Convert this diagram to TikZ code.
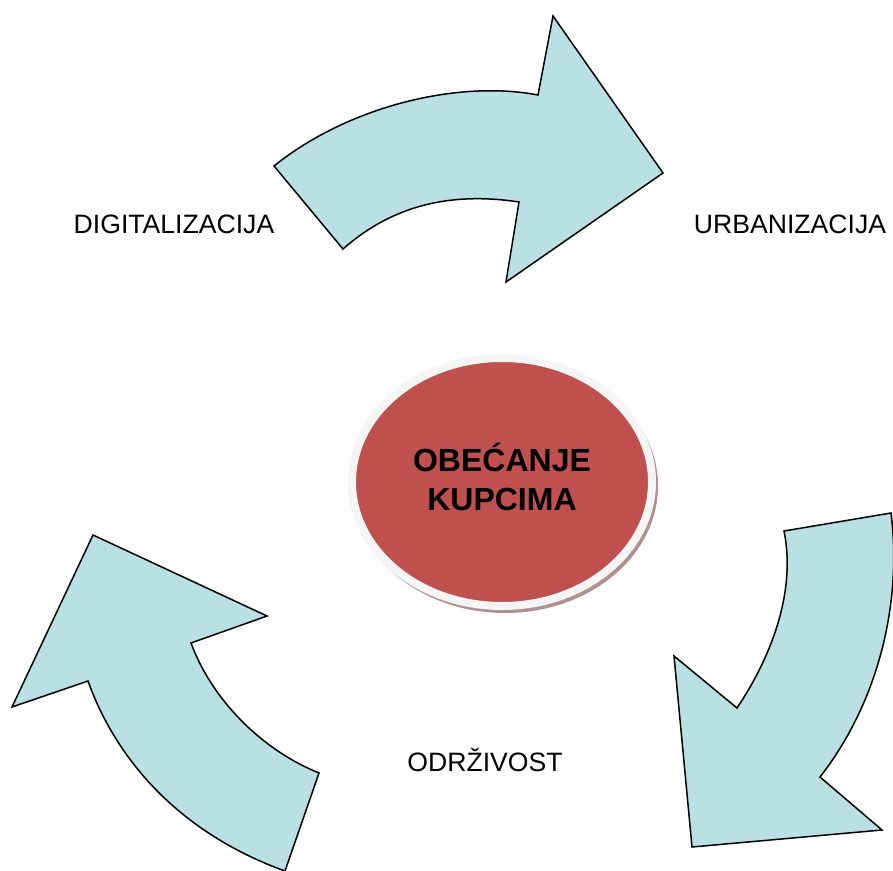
\documentclass[tikz,border=0pt]{standalone}
\usepackage{fontspec}
\setmainfont{Liberation Sans}
\usepackage{tikz}
\usetikzlibrary{ calc, positioning, shapes.geometric }
\definecolor{arrowfill}{RGB}{185,224,227}
\definecolor{corered}{RGB}{192,80,77}
\definecolor{coreshadow}{RGB}{175,145,145}
\tikzset{
x=0.5pt, y=-0.5pt, % pixel-like units
bentarrow/.style={fill=arrowfill, draw=black, line width=0.75pt, line join=miter}, % the three curved arrows
core/.style={ellipse, fill=corered, draw=gray!8, line width=4pt, minimum width=150pt, minimum height=124pt}, % centre disc
label/.style={font=\fontsize{13.3}{16}\selectfont, inner sep=0pt}, % texts round the circle
}
\begin{document}
\begin{tikzpicture}
  \useasboundingbox (0,0) rectangle (893,871);

  % shadow and centre
  \fill[coreshadow] (505,486) ellipse (153 and 127);
  \node[core] (core) at (502,482) {};
  \node[font=\fontsize{16}{19.5}\selectfont\bfseries, align=center, inner sep=0pt]
    (promise) at ([yshift=2.75pt]core.center) {OBEĆANJE\\KUPCIMA};

  % top arrow
  \draw[bentarrow] (274,166) .. controls (350,105) and (460,80) .. (538,95)
    -- (553,16) -- (663,173) -- (506,282) -- (519,202)
    .. controls (440,190) and (385,212) .. (343,249) -- cycle;

  % right arrow
  \draw[bentarrow] (784,531) -- (891,513)
    .. controls (902,600) and (880,700) .. (820,777)
    -- (882,830) -- (692,847) -- (674,656) -- (737,708)
    .. controls (768,662) and (797,595) .. cycle;

  % left arrow
  \draw[bentarrow] (319,773) .. controls (262,750) and (212,700) .. (191,643)
    -- (267,616) -- (93,535) -- (12,707) -- (88,681)
    .. controls (118,765) and (185,835) .. (285,871) -- cycle;

  \node[label] (digital) at (174,224) {DIGITALIZACIJA};
  \node[label] (urban) at (790,224) {URBANIZACIJA};
  \node[label] (odrziv) at (485,760) {ODRŽIVOST};
\end{tikzpicture}
\end{document}
